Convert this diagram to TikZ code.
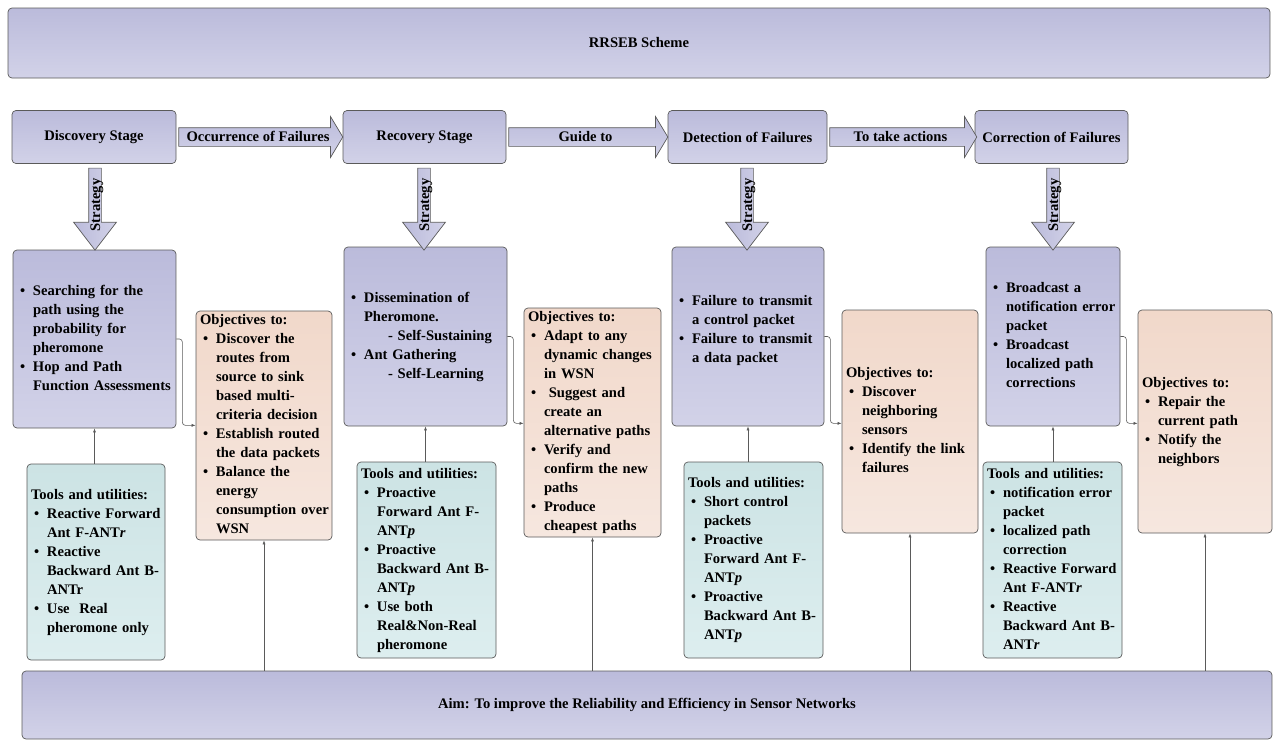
\documentclass[tikz,border=0pt]{standalone}
\usepackage{fontspec}
\setmainfont{Liberation Serif}
\usepackage{xcolor}
\usepackage{tikz}
\usetikzlibrary{arrows.meta, positioning, calc, shapes.arrows}
\definecolor{lavTop}{HTML}{BBBBDB}
\definecolor{lavBot}{HTML}{D2D2E8}
\definecolor{peachTop}{HTML}{F1D8CA}
\definecolor{peachBot}{HTML}{F6E7DF}
\definecolor{tealTop}{HTML}{CCE3E4}
\definecolor{tealBot}{HTML}{DDEEEF}
\definecolor{edgeGray}{HTML}{5A5A5A}
\newcommand{\bl}{\makebox[16pt][l]{\hspace{3pt}\textbullet}}
\newcommand{\cl}{\hspace*{16pt}}

\begin{document}
\begin{tikzpicture}[x=1pt, y=-1pt, >=Stealth,
  every node/.style={font=\fontsize{14.6}{19}\selectfont\bfseries},
  box/.style={draw=edgeGray, line width=0.7pt, rounded corners=4pt, inner xsep=4pt, inner ysep=0pt},
  lav/.style={box, top color=lavTop, bottom color=lavBot},
  peach/.style={box, top color=peachTop, bottom color=peachBot},
  teal/.style={box, top color=tealTop, bottom color=tealBot},
  harrow/.style={single arrow, draw=edgeGray, line width=0.7pt, top color=lavTop, bottom color=lavBot,
    single arrow head extend=11pt, single arrow tip angle=118, inner xsep=2pt, inner ysep=3pt,
    text height=10pt, text depth=2pt},
  varrow/.style={single arrow, shape border rotate=180, rotate=90, draw=edgeGray, line width=0.7pt,
    left color=lavTop, right color=lavBot, single arrow head extend=15pt, single arrow tip angle=75,
    inner xsep=2pt, inner ysep=0pt, text height=11pt, text depth=1pt},
  conn/.style={draw=edgeGray, line width=0.6pt, rounded corners=3pt, -{Latex[length=4pt,width=3pt]}}]
  \useasboundingbox (0,0) rectangle (1277,740);

  % Nodes
  \node[lav, minimum width=1262pt, minimum height=70pt] (top) at (639,43) {RRSEB Scheme};
  \node[lav, minimum width=1250pt, minimum height=68pt] (aim) at (647,705)
    {Aim: To improve the Reliability and Efficiency in Sensor Networks};

  \node[lav, minimum width=164pt, minimum height=53pt] (disc) at (94,137) {Discovery Stage};
  \node[lav, minimum width=163pt, minimum height=53pt] (reco) at (424.5,137) {Recovery Stage};
  \node[lav, minimum width=159pt, minimum height=53pt] (dete) at (747.5,137) {Detection of Failures};
  \node[lav, minimum width=153pt, minimum height=53pt] (corr) at (1051.5,137) {Correction of Failures};

  \node[lav, text width=155pt, minimum height=178pt] (d1) at (94.5,339) {\begin{tabular}{@{}l@{}}
    \bl Searching for the\\ \cl path using the\\ \cl probability for\\ \cl pheromone\\
    \bl Hop and Path\\ \cl Function Assessments\end{tabular}};
  \node[lav, text width=155pt, minimum height=179pt] (r1) at (425.5,336.5) {\begin{tabular}{@{}l@{}}
    \bl Dissemination of\\ \cl Pheromone.\\ \hspace*{40pt}- Self-Sustaining\\
    \bl Ant Gathering\\ \hspace*{40pt}- Self-Learning\end{tabular}};
  \node[lav, text width=144pt, minimum height=179pt] (t1) at (748,336.5) {\begin{tabular}{@{}l@{}}
    \bl Failure to transmit\\ \cl a control packet\\ \bl Failure to transmit\\ \cl a data packet\\[12pt]\end{tabular}};
  \node[lav, text width=126pt, minimum height=179pt] (c1) at (1053,336.5) {\begin{tabular}{@{}l@{}}
    \bl Broadcast a\\ \cl notification error\\ \cl packet\\
    \bl Broadcast\\ \cl localized path\\ \cl corrections\end{tabular}};

  \node[peach, text width=128pt, minimum height=229pt] (o1) at (264,425.5) {\begin{tabular}{@{}l@{}}
    Objectives to:\\ \bl Discover the\\ \cl routes from\\ \cl source to sink\\ \cl based multi-\\
    \cl criteria decision\\ \bl Establish routed\\ \cl the data packets\\ \bl Balance the\\
    \cl energy\\ \cl consumption over\\ \cl WSN\end{tabular}};
  \node[peach, text width=129pt, minimum height=229pt] (o2) at (592.5,422.5) {\begin{tabular}{@{}l@{}}
    Objectives to:\\ \bl Adapt to any\\ \cl dynamic changes\\ \cl in WSN\\ \bl \ Suggest and\\
    \cl create an\\ \cl alternative paths\\ \bl Verify and\\ \cl confirm the new\\
    \cl paths\\ \bl Produce\\ \cl cheapest paths\end{tabular}};
  \node[peach, text width=128pt, minimum height=223pt] (o3) at (910,421.5) {\begin{tabular}{@{}l@{}}
    Objectives to:\\ \bl Discover\\ \cl neighboring\\ \cl sensors\\ \bl Identify the link\\
    \cl failures\end{tabular}};
  \node[peach, text width=126pt, minimum height=223pt] (o4) at (1205,421.5) {\begin{tabular}{@{}l@{}}
    Objectives to:\\ \bl Repair the\\ \cl current path\\ \bl Notify the\\ \cl neighbors\end{tabular}};

  \node[teal, text width=130pt, minimum height=196pt] (u1) at (96,562) {\begin{tabular}{@{}l@{}}
    Tools and utilities:\\ \bl Reactive Forward\\ \cl Ant F-ANT\textit{r}\\ \bl Reactive\\
    \cl Backward Ant B-\\ \cl ANTr\\ \bl Use\ \ Real\\ \cl pheromone only\end{tabular}};
  \node[teal, text width=131pt, minimum height=196pt] (u2) at (426.5,560) {\begin{tabular}{@{}l@{}}
    Tools and utilities:\\ \bl Proactive\\ \cl Forward Ant F-\\ \cl ANT\textit{p}\\ \bl Proactive\\
    \cl Backward Ant B-\\ \cl ANT\textit{p}\\ \bl Use both\\ \cl Real\&Non-Real\\ \cl pheromone\end{tabular}};
  \node[teal, text width=131pt, minimum height=196pt] (u3) at (753.5,560) {\begin{tabular}{@{}l@{}}
    Tools and utilities:\\ \bl Short control\\ \cl packets\\ \bl Proactive\\ \cl Forward Ant F-\\
    \cl ANT\textit{p}\\ \bl Proactive\\ \cl Backward Ant B-\\ \cl ANT\textit{p}\end{tabular}};
  \node[teal, text width=131pt, minimum height=196pt] (u4) at (1052.5,560) {\begin{tabular}{@{}l@{}}
    Tools and utilities:\\ \bl notification error\\ \cl packet\\ \bl localized path\\ \cl correction\\
    \bl Reactive Forward\\ \cl Ant F-ANT\textit{r}\\ \bl Reactive\\ \cl Backward Ant B-\\
    \cl ANT\textit{r}\end{tabular}};

  % Block arrows between the stages
  \node[harrow, minimum height=164pt] (a1) at (258,137) {Occurrence of Failures};
  \node[harrow, minimum height=159pt] (a2) at (585.5,137) {Guide to};
  \node[harrow, minimum height=147pt] (a3) at (900.5,137) {To take actions};

  \node[varrow, minimum height=82pt] (s1) at (95,205) {Strategy};
  \node[varrow, minimum height=82pt] (s2) at (424,205) {Strategy};
  \node[varrow, minimum height=82pt] (s3) at (747,205) {Strategy};
  \node[varrow, minimum height=82pt] (s4) at (1053,205) {Strategy};

  % Connectors
  \draw[conn] (d1.east) -- ++(6,0) |- ($(d1.south -| o1.west)+(0,-3)$);
  \draw[conn] (r1.east) -- ++(6,0) |- ($(r1.south -| o2.west)+(0,-3)$);
  \draw[conn] (t1.east) -- ++(6,0) |- ($(t1.south -| o3.west)+(0,-3)$);
  \draw[conn] (c1.east) -- ++(6,0) |- ($(c1.south -| o4.west)+(0,-3)$);

  \draw[conn] (u1.north -| d1.south) -- (d1.south);
  \draw[conn] (u2.north -| r1.south) -- (r1.south);
  \draw[conn] (u3.north -| t1.south) -- (t1.south);
  \draw[conn] (u4.north -| c1.south) -- (c1.south);

  \draw[conn] (aim.north -| o1.south) -- (o1.south);
  \draw[conn] (aim.north -| o2.south) -- (o2.south);
  \draw[conn] (aim.north -| o3.south) -- (o3.south);
  \draw[conn] (aim.north -| o4.south) -- (o4.south);
\end{tikzpicture}
\end{document}
